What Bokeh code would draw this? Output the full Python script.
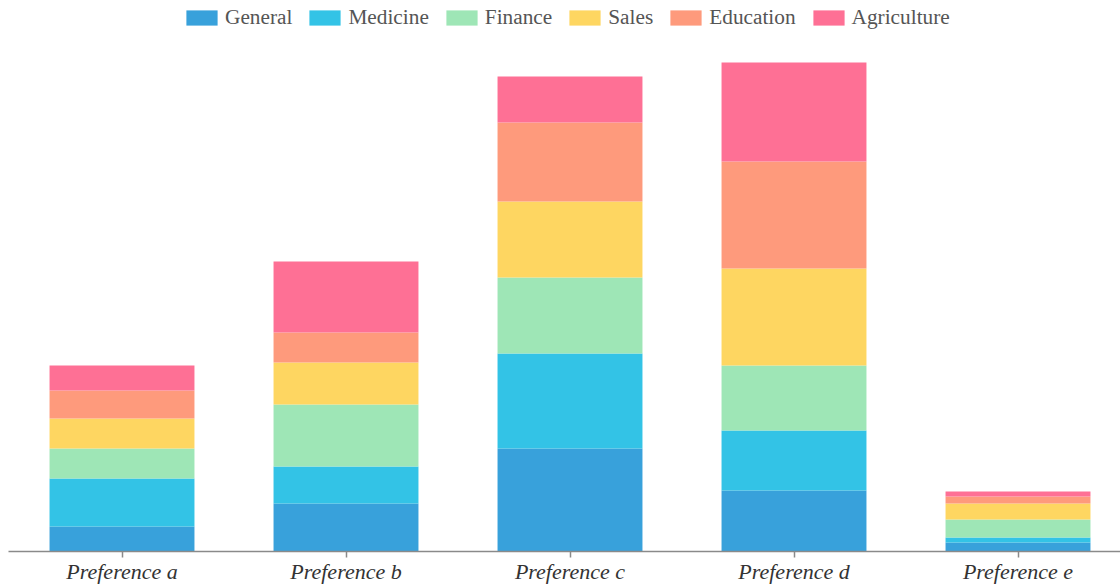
from bokeh.plotting import figure
from bokeh.models import ColumnDataSource, Range1d, FixedTicker
from bokeh.embed import file_html
from bokeh.resources import INLINE

categories = ["Preference a", "Preference b", "Preference c", "Preference d", "Preference e"]
series = ["General", "Medicine", "Finance", "Sales", "Education", "Agriculture"]
general = [2.5, 4.8, 10.3, 6.1, 0.9]
medicine = [4.8, 3.7, 9.5, 6.0, 0.5]
finance = [3.0, 6.2, 7.6, 6.5, 1.8]
sales = [3.0, 4.2, 7.6, 9.7, 1.6]
education = [2.8, 3.0, 7.9, 10.7, 0.7]
agriculture = [2.5, 7.1, 4.6, 9.9, 0.5]
colors = ["#38A1DB", "#33C3E6", "#9EE6B6", "#FED661", "#FE9A7C", "#FE7095"]

positions = list(range(len(categories)))
source = ColumnDataSource(dict(x=positions, General=general, Medicine=medicine,
                               Finance=finance, Sales=sales, Education=education,
                               Agriculture=agriculture))

W, H = 1120, 586
LEFT, TOP, AXIS = 8, 0, 35
frame_w = W - LEFT
frame_h = H - TOP - AXIS
x0 = -0.5067
p = figure(width=W, height=H, output_backend="svg", toolbar_location=None,
           x_range=Range1d(x0, x0 + frame_w / 224.0),
           y_range=Range1d(0, frame_h / 10.0),
           min_border_left=LEFT, min_border_right=0, min_border_top=TOP,
           min_border_bottom=0)

p.vbar_stack(series, x="x", width=0.647, color=colors, source=source,
             line_width=0, legend_label=series)

p.outline_line_color = None
p.xgrid.visible = False
p.ygrid.visible = False
p.yaxis.visible = False
p.background_fill_color = "white"
p.border_fill_color = "white"

ax = p.xaxis[0]
ax.ticker = FixedTicker(ticks=positions, minor_ticks=[])
ax.major_label_overrides = {i: c for i, c in zip(positions, categories)}
ax.axis_line_color = "#8a8a8a"
ax.axis_line_width = 1.5
ax.major_tick_line_color = "#8a8a8a"
ax.major_tick_line_width = 1.5
ax.major_tick_out = 6
ax.major_tick_in = 0
ax.minor_tick_line_color = None
ax.major_label_standoff = 1
ax.major_label_text_font = "Liberation Serif"
ax.major_label_text_font_style = "italic"
ax.major_label_text_font_size = "22px"
ax.major_label_text_color = "#333333"

lg = p.legend[0]
lg.location = (174, frame_h - 30)
lg.orientation = "horizontal"
lg.background_fill_alpha = 0
lg.border_line_color = None
lg.margin = 0
lg.padding = 0
lg.spacing = 13
lg.label_standoff = 4
lg.glyph_width = 39
lg.glyph_height = 19
lg.label_text_font = "Liberation Serif"
lg.label_text_font_size = "21.3px"
lg.label_text_color = "#555555"
lg.label_height = 19

open("out.html", "w").write(file_html(p, INLINE))
